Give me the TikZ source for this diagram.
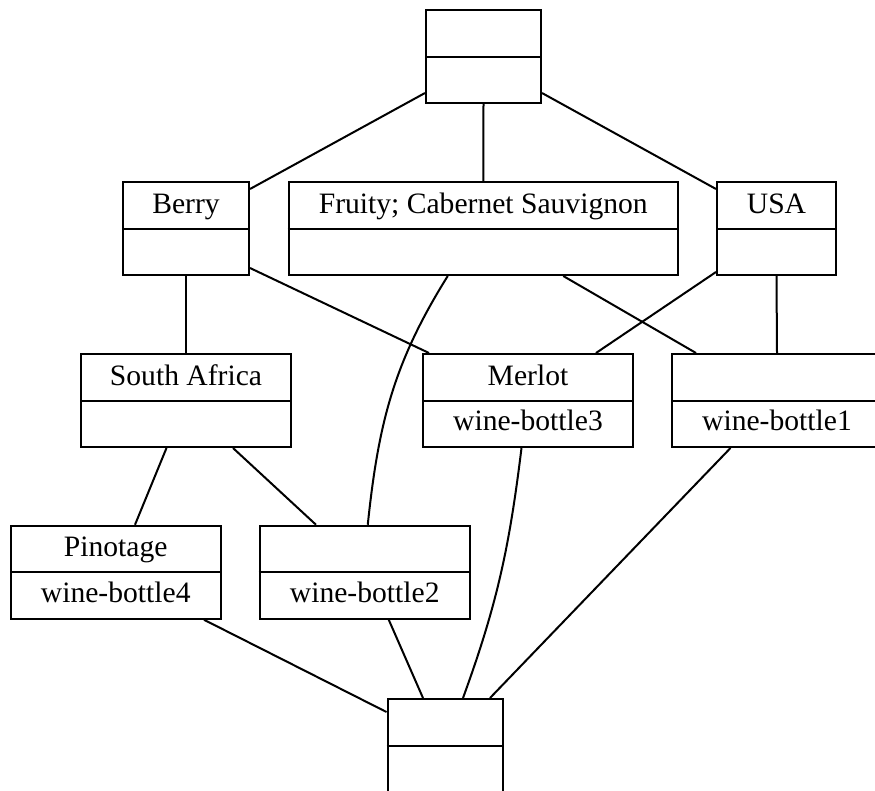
\documentclass[tikz,border=0pt]{standalone}
\usepackage{fontspec}
\setmainfont{Liberation Serif}
\usetikzlibrary{calc}
\begin{document}
\begin{tikzpicture}[x=1pt,y=-1pt,
  line width=2pt,
  record/.style={draw,rectangle,inner sep=0pt,minimum height=93pt},
  lbl/.style={anchor=base,inner sep=0pt,font=\fontsize{29.6}{34}\selectfont},
  edge/.style={draw,line width=2pt}]
\useasboundingbox (0,0) rectangle (875,790);
\clip (0,0) rectangle (875,790);

% records: two compartments each
\node[record,minimum width=115pt]   (top)      at (483.5,56.5) {};
\node[record,minimum width=126pt]   (berry)    at (186,228.5) {};
\node[record,minimum width=389.5pt] (fruity)   at (483.25,228.5) {};
\node[record,minimum width=119pt]   (usa)      at (776.5,228.5) {};
\node[record,minimum width=210pt]   (safrica)  at (186,400.5) {};
\node[record,minimum width=210pt]   (merlot)   at (528,400.5) {};
\node[record,minimum width=210pt]   (wbone)    at (777,400.5) {};
\node[record,minimum width=209.5pt] (pinotage) at (115.75,572.25) {};
\node[record,minimum width=210.5pt] (wbtwo)    at (364.75,572.25) {};
\node[record,minimum width=115pt]   (bottom)   at (445,745.5) {};

\foreach \n in {top,berry,fruity,usa,safrica,merlot,wbone,pinotage,wbtwo,bottom}
  \draw (\n.west) -- (\n.east);

% compartment texts
\node[lbl] (berryT)    at ($(berry.north)+(0,32)$)    {Berry};
\node[lbl] (fruityT)   at ($(fruity.north)+(0,32)$)   {Fruity; Cabernet Sauvignon};
\node[lbl] (usaT)      at ($(usa.north)+(0,32)$)      {USA};
\node[lbl] (safricaT)  at ($(safrica.north)+(0,32)$)  {South Africa};
\node[lbl] (merlotT)   at ($(merlot.north)+(0,32)$)   {Merlot};
\node[lbl] (merlotB)   at ($(merlot.center)+(0,30)$)  {wine-bottle3};
\node[lbl] (wboneB)    at ($(wbone.center)+(0,30)$)   {wine-bottle1};
\node[lbl] (pinotageT) at ($(pinotage.north)+(0,32)$) {Pinotage};
\node[lbl] (pinotageB) at ($(pinotage.center)+(0,30)$) {wine-bottle4};
\node[lbl] (wbtwoB)    at ($(wbtwo.center)+(0,30)$)   {wine-bottle2};

% lattice edges
\path[edge] ($(top.south west)+(0,-11)$) -- ($(berry.north east)+(0,8)$);
\path[edge] (top.south) -- (fruity.north);
\path[edge] ($(top.south east)+(0,-11)$) -- ($(usa.north west)+(0,8)$);
\path[edge] (berry.south) -- (safrica.north);
\path[edge] ($(berry.south east)+(0,-8)$) -- ($(merlot.north west)+(7,0)$);
\path[edge] ($(fruity.south)+(-35.5,0)$) to[out=-122,in=84] ($(wbtwo.north)+(3,0)$);
\path[edge] ($(fruity.south)+(80,0)$) -- ($(wbone.north west)+(25,0)$);
\path[edge] ($(usa.south west)+(0,-4)$) -- ($(merlot.north east)+(-38,0)$);
\path[edge] (usa.south) -- (wbone.north);
\path[edge] ($(safrica.south)+(-19.5,0)$) -- ($(pinotage.north)+(19.25,0)$);
\path[edge] ($(safrica.south)+(47,0)$) -- ($(wbtwo.north)+(-48.75,0)$);
\path[edge] ($(merlot.south)+(-6.5,0)$) to[out=-97,in=70] ($(bottom.north)+(18,0)$);
\path[edge] ($(wbone.south west)+(59.5,0)$) -- ($(bottom.north)+(45,0)$);
\path[edge] ($(pinotage.south west)+(194,0)$) -- ($(bottom.north west)+(0,14)$);
\path[edge] ($(wbtwo.south)+(24,0)$) -- ($(bottom.north)+(-22,0)$);
\end{tikzpicture}
\end{document}
